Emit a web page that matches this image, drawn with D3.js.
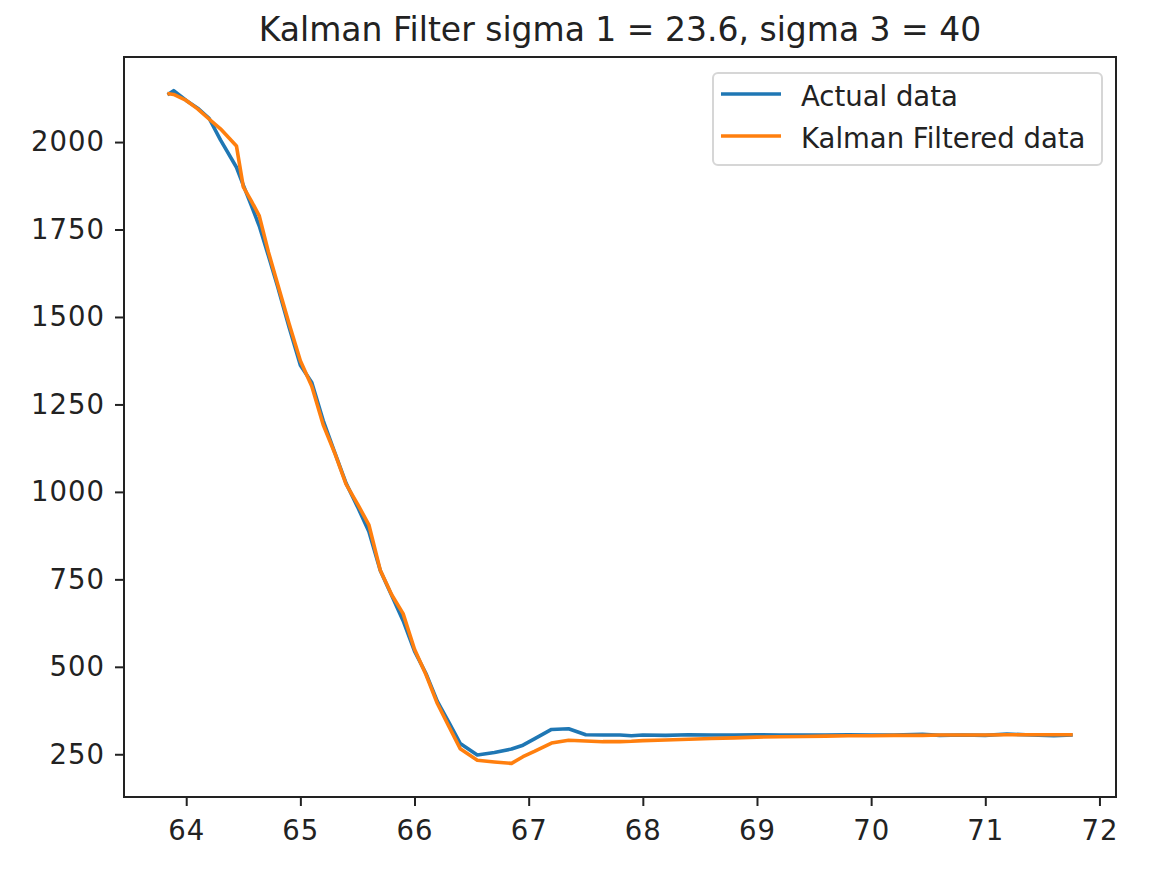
<!DOCTYPE html>
<html>
<head>
<meta charset="utf-8">
<script src="https://cdn.jsdelivr.net/npm/d3@7.9.0/dist/d3.min.js"></script>
<style>
  body { margin: 0; background: #fff; }
  svg { display: block; font-family: "DejaVu Sans", sans-serif; }
</style>
</head>
<body>
<svg id="chart" width="1158" height="874"></svg>
<script>
// time axis (shared by both series)
const xs = [63.85, 63.89, 64.0, 64.1, 64.2, 64.3, 64.44, 64.5, 64.57, 64.64, 64.72, 64.8, 64.9,
  65.0, 65.1, 65.2, 65.3, 65.4, 65.5, 65.6, 65.7, 65.8, 65.9, 66.0, 66.1, 66.2, 66.3, 66.4,
  66.55, 66.7, 66.85, 66.95, 67.05, 67.2, 67.35, 67.5, 67.65, 67.8, 67.9, 68.0, 68.2, 68.4,
  68.6, 68.8, 69.0, 69.2, 69.4, 69.6, 69.8, 70.0, 70.2, 70.45, 70.6, 70.8, 71.0, 71.19, 71.4,
  71.6, 71.75];

const actual = [2138, 2147, 2119, 2097, 2068, 2006, 1928, 1877, 1819, 1760, 1675, 1588, 1472,
  1362, 1313, 1204, 1114, 1025, 958, 887, 775, 704, 632, 545, 481, 401, 342, 281,
  248, 255, 265, 276, 294, 321, 323, 306, 305, 305, 303, 305, 304, 306,
  305, 305, 306, 305, 305, 305, 306, 305, 305, 307, 304, 305, 304, 308, 305,
  303, 305];

const filtered = [2138, 2136, 2119, 2095, 2066, 2038, 1989, 1872, 1832, 1789, 1686, 1595, 1482,
  1375, 1302, 1192, 1112, 1022, 966, 906, 776, 706, 652, 550, 478, 395, 330, 266,
  233, 228, 224, 243, 258, 282, 290, 288, 286, 286, 287, 289, 291, 293,
  295, 297, 299, 300, 301, 302, 303, 303, 304, 304, 305, 305, 305, 306, 306,
  306, 306];

const yTicks = [250, 500, 750, 1000, 1250, 1500, 1750, 2000];
const xTicks = [64, 65, 66, 67, 68, 69, 70, 71, 72];
const seriesNames = ['Actual data', 'Kalman Filtered data'];
const seriesColors = ['#1f77b4', '#ff7f0e'];

const plotLeft = 124, plotRight = 1116, plotTop = 57, plotBottom = 797;
const svg = d3.select('#chart');

// matplotlib-like 5% margins
let xExt = d3.extent(xs);
let xPad = (xExt[1] - xExt[0]) * 0.05;
let allY = actual.concat(filtered);
let yExt = d3.extent(allY);
let yPad = (yExt[1] - yExt[0]) * 0.05;

let x = d3.scaleLinear().domain([xExt[0] - xPad, xExt[1] + xPad]).range([plotLeft, plotRight]);
let y = d3.scaleLinear().domain([yExt[0] - yPad, yExt[1] + yPad]).range([plotBottom, plotTop]);

// title
svg.append('text')
   .attr('x', (plotLeft + plotRight) / 2)
   .attr('y', 41)
   .attr('text-anchor', 'middle')
   .attr('font-size', 33)
   .attr('fill', '#222')
   .text('Kalman Filter sigma 1 = 23.6, sigma 3 = 40');

// axes
let xAxis = d3.axisBottom(x).tickValues(xTicks).tickSize(9).tickPadding(9).tickFormat(d3.format('d'));
let yAxis = d3.axisLeft(y).tickValues(yTicks).tickSize(9).tickPadding(10).tickFormat(d3.format('d'));

let gx = svg.append('g').attr('transform', `translate(0,${plotBottom})`).call(xAxis);
let gy = svg.append('g').attr('transform', `translate(${plotLeft},0)`).call(yAxis);

[gx, gy].forEach((g) => {
    g.select('.domain').remove();
    g.selectAll('line').attr('stroke', '#222').attr('stroke-width', 2);
    g.selectAll('text').attr('font-size', 27.5).attr('fill', '#222')
     .attr('letter-spacing', 1)
     .attr('font-family', '"DejaVu Sans", sans-serif');
});
gx.selectAll('text').attr('dy', '0.9em');

// lines
let lineGen = d3.line()
    .x((d) => x(d[0]))
    .y((d) => y(d[1]));

[actual, filtered].forEach((vals, i) => {
    svg.append('path')
       .datum(xs.map((xv, j) => [xv, vals[j]]))
       .attr('d', lineGen)
       .attr('fill', 'none')
       .attr('stroke', seriesColors[i])
       .attr('stroke-width', 3.6)
       .attr('stroke-linejoin', 'round')
       .attr('stroke-linecap', 'square');
});

// spines
svg.append('rect')
   .attr('x', plotLeft).attr('y', plotTop)
   .attr('width', plotRight - plotLeft).attr('height', plotBottom - plotTop)
   .attr('fill', 'none')
   .attr('stroke', '#222')
   .attr('stroke-width', 2);

// legend
let legend = svg.append('g');
legend.append('rect')
      .attr('x', 713).attr('y', 73)
      .attr('width', 389).attr('height', 92)
      .attr('rx', 5)
      .attr('fill', '#fff').attr('fill-opacity', 0.8)
      .attr('stroke', '#d6d6d6').attr('stroke-width', 2);

seriesNames.forEach((name, i) => {
    let cy = 94 + i * 42;
    legend.append('line')
          .attr('x1', 721).attr('x2', 781)
          .attr('y1', cy).attr('y2', cy)
          .attr('stroke', seriesColors[i])
          .attr('stroke-width', 3.6);
    legend.append('text')
          .attr('x', 801).attr('y', cy + 11.5)
          .attr('font-size', 27.5).attr('fill', '#222')
          .text(name);
});
</script>
</body>
</html>
